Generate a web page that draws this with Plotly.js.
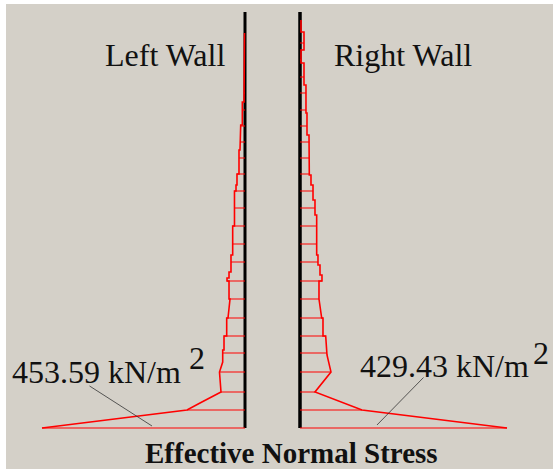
<!DOCTYPE html>
<html>
<head>
<meta charset="utf-8">
<script src="https://cdn.plot.ly/plotly-3.0.1.min.js"></script>
<style>html,body{margin:0;padding:0;background:#fff;}#chart{width:553px;height:469px;}</style>
</head>
<body>
<div id="chart"></div>
<script>
// Depth below top of wall (m) and effective normal stress (kN/m2) along each stress outline
const leftDepth  = [1.05, 3.4, 4.5, 4.5, 5.65, 5.65, 6.05, 6.05, 6.9, 6.9, 8.1, 8.1, 8.65, 8.65, 8.95, 8.95, 10.7, 10.7, 12.15, 12.15, 13.0, 13.0, 13.3, 13.3, 13.45, 13.45, 14.35, 14.35, 15.3, 15.3, 16.2, 16.2, 16.9, 16.9, 17.5, 18.0, 19.0, 19.55, 19.9, 20.8];
const leftStress = [1.1, 2.2, 2.2, 6.0, 6.0, 9.6, 9.6, 11.2, 11.2, 13.4, 13.4, 17.9, 17.9, 20.1, 20.1, 23.5, 23.5, 27.5, 27.5, 31.3, 31.3, 35.7, 35.7, 40.2, 40.2, 35.7, 35.7, 33.5, 38.0, 40.9, 40.9, 46.9, 46.9, 49.8, 49.8, 57.0, 53.6, 100.5, 129.6, 453.59];

const rightDepth  = [0.4, 1.0, 1.0, 1.9, 1.9, 2.55, 2.55, 3.65, 3.65, 5.05, 5.05, 6.15, 6.15, 8.15, 8.15, 8.65, 8.65, 9.4, 9.4, 10.15, 10.15, 12.15, 12.15, 12.65, 12.65, 13.15, 13.15, 13.45, 13.45, 14.35, 15.3, 15.3, 16.2, 16.2, 17.15, 18.0, 19.0, 19.9, 20.8];
const rightStress = [2.1, 2.1, 8.3, 8.3, 2.1, 2.1, 8.3, 8.3, 12.4, 12.4, 14.5, 14.5, 18.7, 19.3, 22.8, 22.8, 27.0, 27.0, 31.1, 31.1, 34.6, 34.6, 37.3, 37.3, 41.5, 41.5, 45.6, 45.6, 39.4, 39.4, 45.0, 47.7, 47.7, 53.3, 56.0, 64.3, 31.1, 128.6, 429.43];

// Depths of the horizontal hatch lines (m)
const hatchDepth = [1.55, 2.4, 3.25, 4.05, 4.9, 5.7, 6.5, 7.3, 8.1, 8.95, 9.8, 10.7, 11.6, 12.5, 13.45, 14.35, 15.3, 16.2, 17.05, 18.0, 19.0, 19.9, 20.8];

const wallTop = 0, wallBottom = 20.8;
const labels = {left: 'Left Wall', right: 'Right Wall', leftMax: '453.59 kN/m', rightMax: '429.43 kN/m', unitPow: '2', title: 'Effective Normal Stress'};

function stressAt(depths, stresses, d) {
  let best = null;
  for (let i = 0; i < depths.length; i++) if (Math.abs(depths[i] - d) < 1e-9) best = best === null ? stresses[i] : Math.max(best, stresses[i]);
  if (best !== null) return best;
  if (d < depths[0]) return 0;
  for (let i = 0; i < depths.length - 1; i++) {
    if (d > depths[i] && d < depths[i + 1]) {
      const t = (d - depths[i]) / (depths[i + 1] - depths[i]);
      return stresses[i] + t * (stresses[i + 1] - stresses[i]);
    }
  }
  return stresses[stresses.length - 1];
}
function hatch(depths, stresses) {
  const x = [], y = [];
  hatchDepth.forEach(d => { x.push(0, stressAt(depths, stresses, d), null); y.push(d, d, null); });
  return {x, y};
}
const hl = hatch(leftDepth, leftStress), hr = hatch(rightDepth, rightStress);
const red = '#ff0000';
const traces = [
  {x: hl.x, y: hl.y, xaxis: 'x', yaxis: 'y', mode: 'lines', line: {color: red, width: 1}, hoverinfo: 'skip'},
  {x: leftStress, y: leftDepth, xaxis: 'x', yaxis: 'y', mode: 'lines', line: {color: red, width: 1.6}, hoverinfo: 'skip'},
  {x: hr.x, y: hr.y, xaxis: 'x2', yaxis: 'y', mode: 'lines', line: {color: red, width: 1}, hoverinfo: 'skip'},
  {x: rightStress, y: rightDepth, xaxis: 'x2', yaxis: 'y', mode: 'lines', line: {color: red, width: 1.6}, hoverinfo: 'skip'}
];
const W = 553, H = 469;
const px = v => v / W, py = v => 1 - v / H;
const serif = 'Liberation Serif, Times New Roman, serif';
const txt = (text, x, y, size, bold) => ({text: bold ? '<b>' + text + '</b>' : text, xref: 'paper', yref: 'paper', x: px(x), y: py(y), xanchor: 'center', yanchor: 'middle', borderpad: 0, showarrow: false, font: {family: serif, size: size, color: '#111'}});
const layout = {
  width: W, height: H,
  margin: {l: 0, r: 0, t: 0, b: 0, pad: 0},
  paper_bgcolor: '#ffffff', plot_bgcolor: 'rgba(0,0,0,0)',
  showlegend: false,
  xaxis: {domain: [0, 1], range: [547.44, -688.2], visible: false, fixedrange: true},
  xaxis2: {domain: [0, 1], range: [-622.36, 524.86], overlaying: 'x', visible: false, fixedrange: true},
  yaxis: {domain: [0, 1], range: [22.85, -0.6], visible: false, fixedrange: true},
  shapes: [
    {type: 'rect', xref: 'paper', yref: 'paper', x0: px(6), x1: 1, y0: 0, y1: py(4), fillcolor: '#d4d0c8', line: {width: 0}, layer: 'below'},
    {type: 'line', xref: 'x', yref: 'y', x0: 0, x1: 0, y0: wallTop, y1: wallBottom, line: {color: '#000', width: 3}, layer: 'below'},
    {type: 'line', xref: 'x2', yref: 'y', x0: 0, x1: 0, y0: wallTop, y1: wallBottom, line: {color: '#000', width: 3.5}, layer: 'below'}
  ],
  annotations: [
    txt(labels.left, 165, 55, 32),
    txt(labels.right, 403, 55, 32),
    txt(labels.leftMax, 97, 372, 32),
    txt(labels.unitPow, 197, 358, 32),
    txt(labels.rightMax, 444, 366, 32),
    txt(labels.unitPow, 541, 353, 32),
    txt(labels.title, 291, 453, 29, true),
    {xref: 'x', yref: 'y', x: 207.8, y: 20.7, ax: -64, ay: -41, axref: 'pixel', ayref: 'pixel', text: '', showarrow: true, arrowhead: 0, arrowwidth: 0.8, arrowcolor: '#333', standoff: 0, startstandoff: 0},
    {xref: 'x2', yref: 'y', x: 159.7, y: 20.65, ax: 48, ay: -49, axref: 'pixel', ayref: 'pixel', text: '', showarrow: true, arrowhead: 0, arrowwidth: 0.8, arrowcolor: '#333', standoff: 0, startstandoff: 0}
  ]
};
Plotly.newPlot('chart', traces, layout, {displayModeBar: false, staticPlot: true});
</script>
</body>
</html>
